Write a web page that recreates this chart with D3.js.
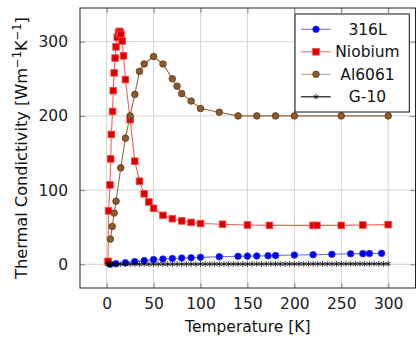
<!DOCTYPE html>
<html><head><meta charset="utf-8">
<script src="https://cdn.jsdelivr.net/npm/d3@7"></script>
<style>
html,body{margin:0;padding:0;background:#fff;}
svg{display:block;font-family:"DejaVu Sans",sans-serif;}
</style></head>
<body>
<svg id="chart" width="416" height="339"></svg>
<script>
// ---- data ----
const xTicks = [0, 50, 100, 150, 200, 250, 300];
const yTicks = [0, 100, 200, 300];

const t316L = [4, 10, 20, 30, 40, 50, 60, 70, 80, 90, 100, 120, 140, 150, 160, 172, 180, 200, 220, 240, 260, 273, 280, 293];
const k316L = [0.3, 0.8, 2.2, 3.6, 5.0, 6.4, 7.1, 7.9, 8.5, 8.9, 9.4, 10.2, 10.8, 11.0, 11.2, 11.6, 11.8, 12.5, 13.0, 13.5, 14.2, 14.4, 14.5, 14.8];

const tNb = [1.5, 2, 3.5, 4.3, 5, 6.3, 7, 8, 9, 10, 11.3, 12.5, 13.5, 14.2, 15.2, 16.5, 18, 20, 25, 30, 35, 40, 45, 50, 60, 70, 80, 90, 100, 123.5, 150, 173.5, 220, 224, 250, 273, 300];
const kNb = [4, 72, 107, 142, 175, 206, 234, 258, 278, 293, 306, 312, 314, 313, 310, 301, 281, 249, 195, 139, 112, 95, 84, 75.5, 66, 61.5, 58.5, 56.5, 55, 54, 53, 52.5, 52.5, 52.5, 52.5, 53, 53.5];

const tAl = [4, 6, 8, 10, 15, 20, 25, 30, 35, 40, 50, 60, 70, 75, 80, 90, 100, 120, 140, 160, 180, 200, 250, 300];
const kAl = [34, 51, 69, 85, 130, 170, 200, 229, 260, 270, 280, 270, 250, 240, 230, 220, 210, 205, 200, 200, 200, 200, 200, 200];

const tG10 = [1, 2, 3, 4, 5, 10, 15, 20, 25, 30, 35, 40, 45, 50, 55, 60, 65, 70, 75, 80, 85, 90, 95, 100,
  105, 110, 115, 120, 125, 130, 135, 140, 145, 150, 155, 160, 165, 170, 175, 180, 185, 190, 195, 200,
  205, 210, 215, 220, 225, 230, 235, 240, 245, 250, 255, 260, 265, 270, 275, 280, 285, 290, 295, 300];
const kG10 = [0.02, 0.03, 0.05, 0.06, 0.07, 0.12, 0.14, 0.17, 0.19, 0.2, 0.21, 0.23, 0.24, 0.25, 0.26, 0.27, 0.27, 0.28, 0.29, 0.29, 0.3, 0.31, 0.31, 0.32,
  0.33, 0.34, 0.35, 0.36, 0.37, 0.38, 0.39, 0.4, 0.41, 0.42, 0.43, 0.44, 0.45, 0.46, 0.47, 0.48, 0.49, 0.5, 0.51, 0.52,
  0.53, 0.54, 0.55, 0.56, 0.56, 0.57, 0.58, 0.58, 0.59, 0.6, 0.6, 0.61, 0.62, 0.62, 0.63, 0.63, 0.64, 0.64, 0.65, 0.65];

const seriesNames = ["316L", "Niobium", "Al6061", "G-10"];

// ---- layout ----
const svg = d3.select("#chart");
const plot = {left: 80, right: 415.5, top: 8, bottom: 288};
const x = d3.scaleLinear().domain([-28.4, 329.1]).range([plot.left, plot.right]);
const y = d3.scaleLinear().domain([-31.9, 345.4]).range([plot.bottom, plot.top]);

const series = [
  {name: seriesNames[0], t: t316L, k: k316L, line: "#0000ff", lineOp: 0.6, mark: "circle", fill: "#0000e6", stroke: "#3030ff"},
  {name: seriesNames[1], t: tNb, k: kNb, line: "#ff0000", lineOp: 0.65, mark: "square", fill: "#dd0000", stroke: "#ff4040"},
  {name: seriesNames[2], t: tAl, k: kAl, line: "#7a5230", lineOp: 0.85, mark: "circle", fill: "#8c5a2b", stroke: "#5e3a18"},
  {name: seriesNames[3], t: tG10, k: kG10, line: "#000000", lineOp: 1, mark: "star", fill: "none", stroke: "#000"}
];

// grid
const g = svg.append("g");
g.selectAll(".gx").data(xTicks).enter().append("line")
  .attr("x1", d => x(d)).attr("x2", d => x(d))
  .attr("y1", plot.top).attr("y2", plot.bottom)
  .attr("stroke", "#d3d3d3").attr("stroke-width", 1);
g.selectAll(".gy").data(yTicks).enter().append("line")
  .attr("y1", d => y(d)).attr("y2", d => y(d))
  .attr("x1", plot.left).attr("x2", plot.right)
  .attr("stroke", "#d3d3d3").attr("stroke-width", 1);

// axes with inward ticks on all sides
const axB = d3.axisBottom(x).tickValues(xTicks).tickSize(-5).tickPadding(10);
const axL = d3.axisLeft(y).tickValues(yTicks).tickSize(-5).tickPadding(12);
const axT = d3.axisTop(x).tickValues(xTicks).tickSize(-5).tickFormat("");
const axR = d3.axisRight(y).tickValues(yTicks).tickSize(-5).tickFormat("");

function styleAxis(sel){
  sel.select(".domain").remove();
  sel.selectAll(".tick line").attr("stroke", "#808080");
  sel.selectAll(".tick text").attr("font-size", 15.5).attr("fill", "#222").attr("font-family", "DejaVu Sans");
}
svg.append("g").attr("transform", `translate(0,${plot.bottom})`).call(axB).call(styleAxis);
svg.append("g").attr("transform", `translate(${plot.left},0)`).call(axL).call(styleAxis);
svg.append("g").attr("transform", `translate(0,${plot.top})`).call(axT).call(styleAxis);
svg.append("g").attr("transform", `translate(${plot.right},0)`).call(axR).call(styleAxis);

// clip
svg.append("clipPath").attr("id", "clip").append("rect")
  .attr("x", plot.left).attr("y", plot.top)
  .attr("width", plot.right - plot.left).attr("height", plot.bottom - plot.top);

const data = svg.append("g").attr("clip-path", "url(#clip)");
const lineGen = d3.line().x(d => x(d[0])).y(d => y(d[1]));

function drawMark(sel, s, cx, cy){
  if (s.mark === "circle") {
    sel.append("circle").attr("cx", cx).attr("cy", cy).attr("r", 3.3)
      .attr("fill", s.fill).attr("stroke", s.stroke).attr("stroke-width", 0.8);
  } else if (s.mark === "square") {
    sel.append("rect").attr("x", cx - 3.3).attr("y", cy - 3.3).attr("width", 6.6).attr("height", 6.6)
      .attr("fill", s.fill).attr("stroke", s.stroke).attr("stroke-width", 0.8);
  } else {
    sel.append("path").attr("transform", `translate(${cx},${cy})`)
      .attr("d", d3.symbol(d3.symbolAsterisk, 24)())
      .attr("fill", "none").attr("stroke", "#000").attr("stroke-width", 0.7);
  }
}

series.forEach(s => {
  const pts = s.t.map((t, i) => [t, s.k[i]]);
  data.append("path").attr("d", lineGen(pts))
    .attr("fill", "none").attr("stroke", s.line).attr("stroke-opacity", s.lineOp)
    .attr("stroke-width", s.mark === "star" ? 0.8 : 1.1);
  const mg = data.append("g");
  pts.forEach(p => drawMark(mg, s, x(p[0]), y(p[1])));
});

// frame
svg.append("rect").attr("x", plot.left).attr("y", plot.top)
  .attr("width", plot.right - plot.left).attr("height", plot.bottom - plot.top)
  .attr("fill", "none").attr("stroke", "#222").attr("stroke-width", 1);

// legend
const leg = svg.append("g");
leg.append("rect").attr("x", 295).attr("y", 14).attr("width", 114.3).attr("height", 98)
  .attr("fill", "#fff").attr("stroke", "#111").attr("stroke-width", 1);
series.forEach((s, i) => {
  const ly = 29.3 + i * 22.5;
  leg.append("line").attr("x1", 301).attr("x2", 330.7).attr("y1", ly).attr("y2", ly)
    .attr("stroke", s.line).attr("stroke-opacity", s.mark === "star" ? 1 : 0.55).attr("stroke-width", 1.1);
  drawMark(leg, s, 316, ly);
  leg.append("text").attr("x", 367.5).attr("y", ly + 5.5).attr("text-anchor", "middle")
    .attr("font-size", 15.5).attr("fill", "#111").text(s.name);
});

// axis labels
svg.append("text").attr("x", (plot.left + plot.right) / 2).attr("y", 332)
  .attr("text-anchor", "middle").attr("font-size", 15.5).attr("fill", "#111").text("Temperature [K]");

const yl = svg.append("text").attr("transform", `translate(27,${(plot.top + plot.bottom) / 2}) rotate(-90)`)
  .attr("text-anchor", "middle").attr("font-size", 16.2).attr("fill", "#111");
yl.append("tspan").text("Thermal Condictivity [Wm");
yl.append("tspan").attr("font-size", 11.5).attr("dy", -6.5).text("\u22121");
yl.append("tspan").attr("dy", 6.5).text("K");
yl.append("tspan").attr("font-size", 11.5).attr("dy", -6.5).text("\u22121");
yl.append("tspan").attr("dy", 6.5).text("]");
</script>
</body></html>
